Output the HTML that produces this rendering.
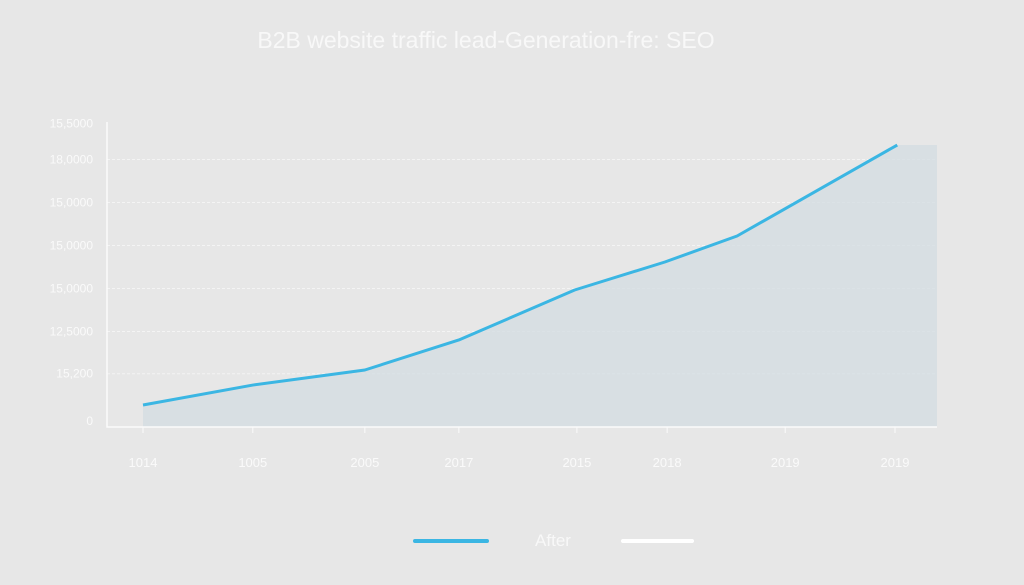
<!DOCTYPE html>
<html><head><meta charset="utf-8"><style>
body{margin:0;background:#e6e6e6;font-family:"Liberation Sans",sans-serif}
svg{display:block}
</style></head><body>
<svg width="1024" height="585" viewBox="0 0 1024 585">
<rect width="1024" height="585" fill="#e7e7e7"/>
<text x="486" y="48" text-anchor="middle" font-size="23" fill="#f8f8f8">B2B website traffic lead-Generation-fre: SEO</text>
<g id="grid"></g><g id="area"></g><g id="axes"></g><g id="line"></g><g id="xt"></g><g id="yt"></g>
<g>
<line x1="415" y1="541" x2="487" y2="541" stroke="#3bb6e3" stroke-width="4" stroke-linecap="round"/>
<text x="553" y="546" text-anchor="middle" font-size="17" fill="#f8f8f8">After</text>
<line x1="623" y1="541" x2="692" y2="541" stroke="#ffffff" stroke-width="4" stroke-linecap="round"/>
</g>
</svg>
<script>
const xValues=[0,1.46,2.95,4.2,5.74,6.94,7.9,10.03];
const yValues=[930,2090,2965,4710,7616,9244,10756,16046];
const xTickPos=[0,1.46,2.95,4.2,5.77,6.97,8.54,10];
const xTickLabels=["1014","1005","2005","2017","2015","2018","2019","2019"];
const yTickVals=[0,2750,5200,7700,10200,12700,15200,17300];
const yTickLabels=["0","15,200","12,5000","15,0000","15,0000","15,0000","18,0000","15,5000"];
const NS="http://www.w3.org/2000/svg";
const X=t=>143+t*75.2, Y=v=>421-v*0.0172;
function mk(p,tag,a){const e=document.createElementNS(NS,tag);for(const k in a)e.setAttribute(k,a[k]);document.getElementById(p).appendChild(e);return e;}
yTickVals.forEach((v,i)=>{
 if(i>0&&i<7){const g=mk('grid','line',{x1:107,x2:937,y1:Y(v),y2:Y(v),stroke:'#f4f4f4','stroke-width':1,'stroke-dasharray':'3 2'});
 
 }
 const t=mk('yt','text',{x:93,y:Y(v)+4,'text-anchor':'end','font-size':12,fill:'#fafafa'});t.textContent=yTickLabels[i];
 
 
});
let pts=xValues.map((x,i)=>X(x)+','+Y(yValues[i]));
const lastY=Y(yValues[yValues.length-1]);
const ar=mk('area','polygon',{points:X(xValues[0])+',427 '+pts.join(' ')+' 937,'+lastY+' 937,427',fill:'#d5dde2',opacity:0.8});


const ax=mk('axes','path',{d:'M107,122 V427 H937',stroke:'#fbfbfb','stroke-width':1.5,fill:'none'});


const ln=mk('line','polyline',{points:pts.join(' '),fill:'none',stroke:'#3bb6e3','stroke-width':3,'stroke-linejoin':'round'});


xTickPos.forEach((t,i)=>{
 mk('xt','line',{x1:X(t),x2:X(t),y1:427,y2:433,stroke:'#fbfbfb'});
 const e=mk('xt','text',{x:X(t),y:467,'text-anchor':'middle','font-size':13,fill:'#fafafa'});e.textContent=xTickLabels[i];
 
 
});
</script>
</body></html>
